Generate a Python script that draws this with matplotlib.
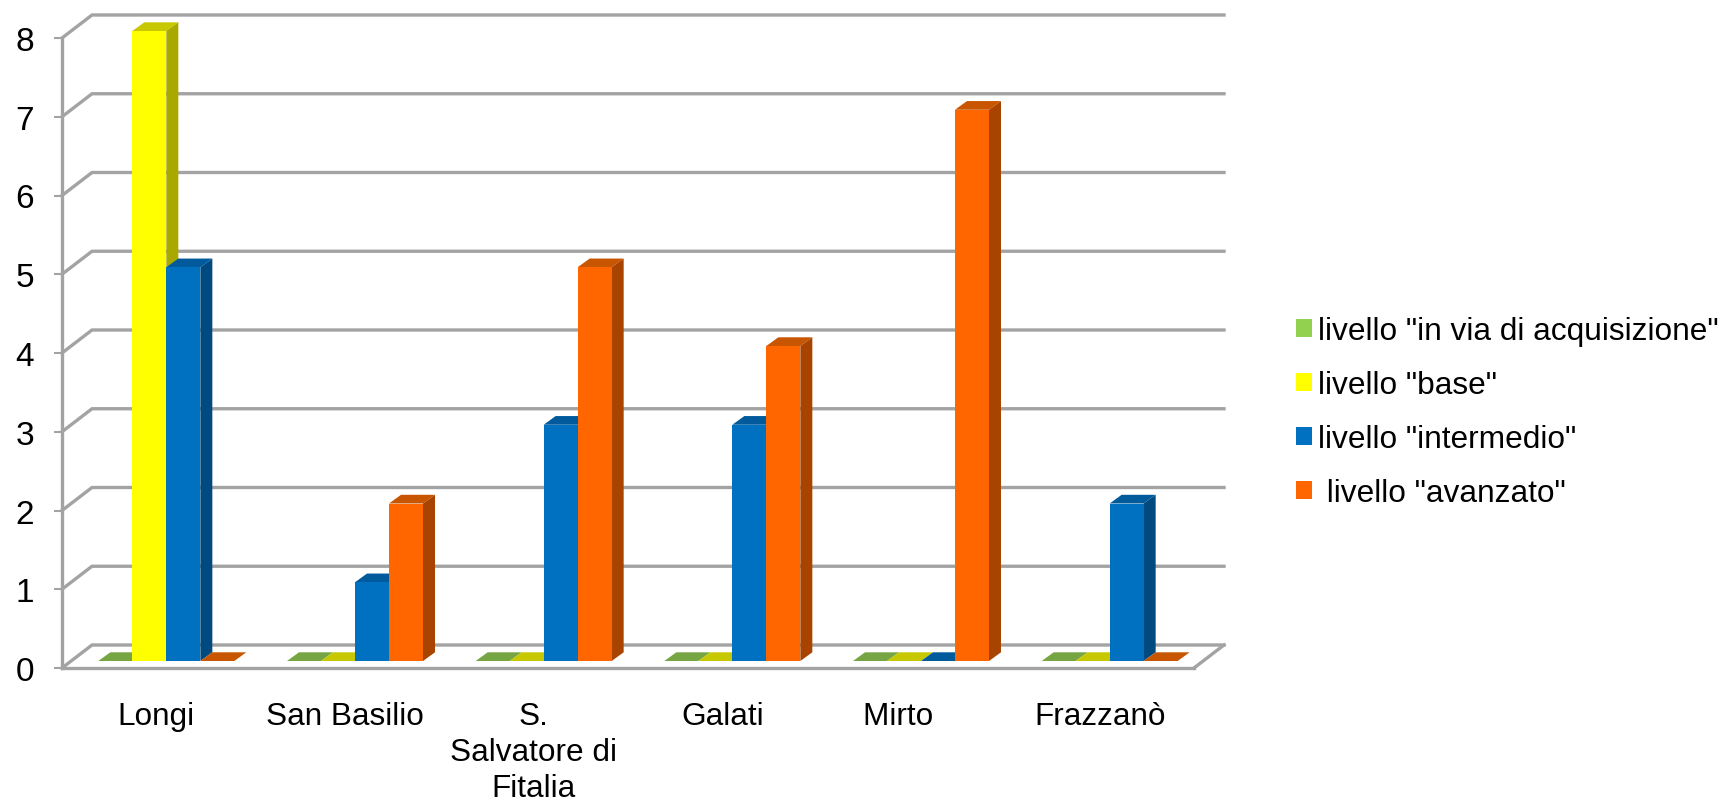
import matplotlib
matplotlib.use("Agg")
import matplotlib.pyplot as plt
from matplotlib.patches import Patch, Polygon

plt.rcParams['font.family'] = ['Liberation Sans', 'DejaVu Sans']

comuni = ['Longi', 'San Basilio', 'S.\nSalvatore di\nFitalia', 'Galati', 'Mirto   ', 'Frazzanò']
acquisizione = [0, 0, 0, 0, 0, 0]
base = [8, 0, 0, 0, 0, 0]
intermedio = [5, 1, 3, 3, 0, 2]
avanzato = [0, 2, 5, 4, 7, 0]
livelli = ['livello "in via di acquisizione"', 'livello "base"', 'livello "intermedio"', ' livello "avanzato"']
valori = [acquisizione, base, intermedio, avanzato]

# front, top, side
colori = [('#92d050', '#76a544', '#5f8a35'),
          ('#ffff00', '#c8c800', '#a8a800'),
          ('#0070c0', '#005a9c', '#004a80'),
          ('#ff6600', '#c85500', '#a84400')]
grigio = '#a3a3a3'

W, H = 1723, 803
fig = plt.figure(figsize=(W / 100, H / 100), dpi=100)
ax = fig.add_axes([62 / W, (H - 669) / H, 1132 / W, 630 / H])
ax.set_xlim(0, 6)
ax.set_ylim(0, 8)

# pixels to data units, for the fake 3D depth
px = 6 / 1132
py = 8 / 630
wall_x, wall_y = 30 * px, 23 * py

for v in range(9):
    ax.plot([0, wall_x, 6 + wall_x], [v, v + wall_y, v + wall_y], color=grigio, lw=2.4,
            clip_on=False, zorder=1, solid_joinstyle='miter')
ax.plot([6, 6 + wall_x], [0, wall_y], color=grigio, lw=2.4, clip_on=False, zorder=1)

larg = 34 * px
off_x, off_y = 10 * px, 7 * py
dx, dy = 12 * px, 8.7 * py

for s, serie in enumerate(valori):
    front, top, side = colori[s]
    for i, v in enumerate(serie):
        x0 = i + 0.5 + off_x + (s - 2) * larg
        x1 = x0 + larg
        y0 = off_y
        y1 = off_y + v
        z = 3 + s + i * 10
        ax.add_patch(Polygon([(x0, y1), (x1, y1), (x1 + dx, y1 + dy), (x0 + dx, y1 + dy)],
                             fc=top, ec='none', clip_on=False, zorder=z))
        if v > 0:
            ax.add_patch(Polygon([(x1, y0), (x1 + dx, y0 + dy), (x1 + dx, y1 + dy), (x1, y1)],
                                 fc=side, ec='none', clip_on=False, zorder=z))
            ax.bar(x0, v, larg, bottom=y0, align='edge', color=front, clip_on=False, zorder=z + 0.5)

for nome in ['top', 'right']:
    ax.spines[nome].set_visible(False)
for nome in ['left', 'bottom']:
    ax.spines[nome].set_color(grigio)
    ax.spines[nome].set_linewidth(2.4)
    ax.spines[nome].set_zorder(2)

ax.set_yticks(range(9))
ax.tick_params(axis='y', length=6, width=1.5, color=grigio, labelsize=24, pad=14)
ax.set_xticks([i + 0.5 for i in range(6)])
ax.set_xticklabels(comuni, fontsize=22.7, linespacing=1.25)
ax.tick_params(axis='x', length=0, pad=24)

handles = [Patch(fc=c[0], ec='none') for c in colori]
fig.legend(handles, livelli, loc='center left', bbox_to_anchor=(1296 / W, (H - 413) / H),
           frameon=False, fontsize=22.8, handlelength=0.5, handleheight=0.5,
           handletextpad=0.2, labelspacing=0.76, borderpad=0, borderaxespad=0)

fig.savefig('out.png', dpi=100)
